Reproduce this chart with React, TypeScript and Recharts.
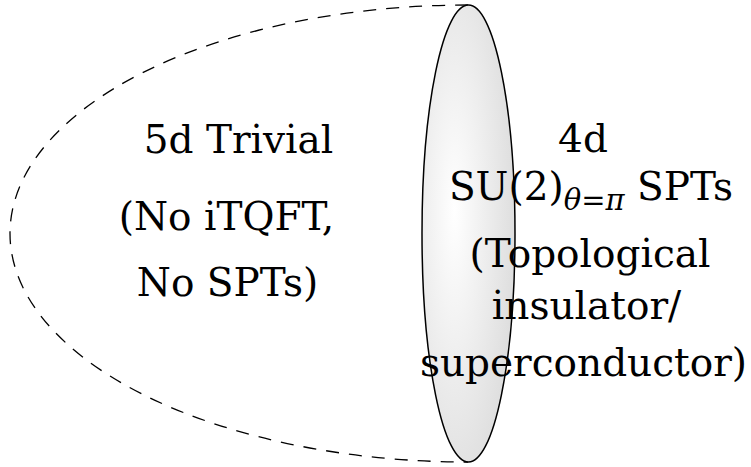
import { ScatterChart, Scatter, XAxis, YAxis } from "recharts"

// boundary of the 5d region (dashed half ellipse) and the 4d slab (filled ellipse)
const boundary = [{ x: 468, y: 233.5, rx: 458, ry: 228.5 }]
const slab = [{ x: 468.5, y: 233.5, rx: 46.5, ry: 228.5 }]

// left labels, anchored at their baseline centre
const leftLabels = [
  { x: 238.5, y: 153, text: "5d Trivial" },
  { x: 226.5, y: 230, text: "(No iTQFT," },
  { x: 227.5, y: 296, text: "No SPTs)" },
]

// right labels; the second one has a subscript
const rightLabels = [
  { x: 583, y: 152, text: "4d", sub: "", tail: "" },
  { x: 591, y: 200, text: "SU(2)", sub: "θ=π", tail: " SPTs" },
  { x: 590, y: 267, text: "(Topological", sub: "", tail: "" },
  { x: 586.5, y: 319, text: "insulator/", sub: "", tail: "" },
  { x: 583.5, y: 376, text: "superconductor)", sub: "", tail: "" },
]

const font = "DejaVu Serif"

const ArcShape = (props: any) => {
  const { cx, cy, payload } = props
  const { rx, ry } = payload
  return (
    <path
      d={`M ${cx} ${cy - ry} A ${rx} ${ry} 0 0 0 ${cx} ${cy + ry}`}
      fill="none"
      stroke="#000"
      strokeWidth={1.3}
      strokeDasharray="13 10"
    />
  )
}

const SlabShape = (props: any) => {
  const { cx, cy, payload } = props
  return (
    <ellipse
      cx={cx}
      cy={cy}
      rx={payload.rx}
      ry={payload.ry}
      fill="url(#slabFill)"
      stroke="#000"
      strokeWidth={1.5}
    />
  )
}

const LabelShape = (props: any) => {
  const { cx, cy, payload } = props
  return (
    <text x={cx} y={cy} textAnchor="middle" fontFamily={font} fontSize={39} fill="#000">
      <tspan>{payload.text}</tspan>
      {payload.sub ? (
        <tspan fontSize={29} fontStyle="italic" dy={10}>
          {payload.sub}
        </tspan>
      ) : null}
      {payload.tail ? <tspan dy={payload.sub ? -10 : 0}>{payload.tail}</tspan> : null}
    </text>
  )
}

export default function App() {
  return (
    <div style={{ position: "absolute", left: 0, top: 0, background: "#fff" }}>
      <ScatterChart width={751} height={467} margin={{ top: 0, right: 0, bottom: 0, left: 0 }}>
        <defs>
          <radialGradient id="slabFill" cx="35%" cy="45%" r="65%">
            <stop offset="0%" stopColor="#ffffff" />
            <stop offset="100%" stopColor="#dedede" />
          </radialGradient>
        </defs>
        <XAxis type="number" dataKey="x" domain={[0, 751]} hide />
        <YAxis type="number" dataKey="y" domain={[0, 467]} reversed hide />
        <Scatter data={boundary} shape={ArcShape} isAnimationActive={false} />
        <Scatter data={slab} shape={SlabShape} isAnimationActive={false} />
        <Scatter data={leftLabels} shape={LabelShape} isAnimationActive={false} />
        <Scatter data={rightLabels} shape={LabelShape} isAnimationActive={false} />
      </ScatterChart>
    </div>
  )
}
